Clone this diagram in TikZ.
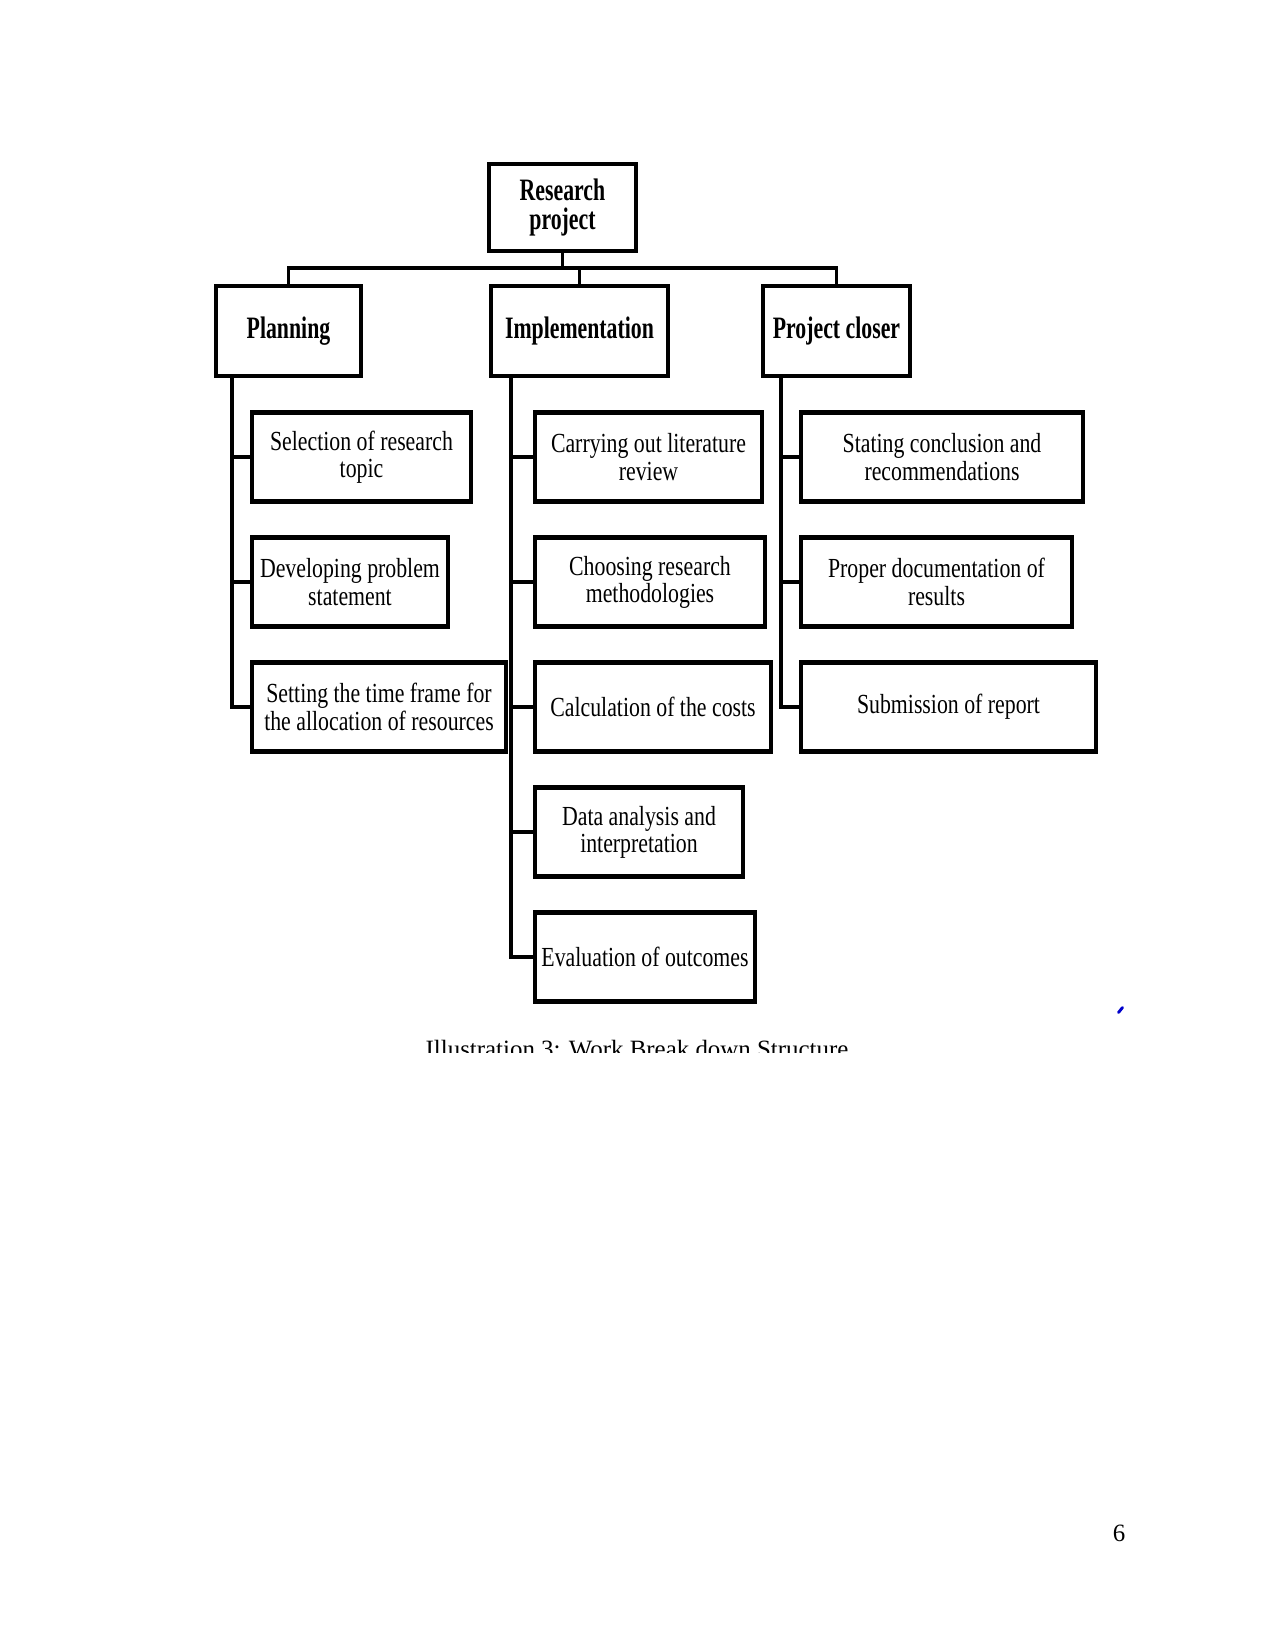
\documentclass[tikz,border=0pt]{standalone}
\usepackage{fontspec}
\setmainfont{Liberation Serif}
\newfontfamily\condf[FakeStretch=0.79]{Liberation Serif}
\newfontfamily\condbf[FakeStretch=0.70]{Liberation Serif}
\newlength\pxu
\setlength\pxu{0.4818pt}
\begin{document}
\begin{tikzpicture}[x=0.4818pt,y=-0.4818pt,
  box/.style={draw,line width=2pt,inner sep=0pt,align=center,
    minimum height=89\pxu,font=\condf\fontsize{13.3pt}{13.1pt}\selectfont},
  headbox/.style={box,minimum height=90\pxu,font=\condbf\bfseries\fontsize{15pt}{13.6pt}\selectfont},
  link/.style={line width=1.8pt,line cap=rect},
  plain/.style={font=\fontsize{12pt}{14pt}\selectfont,inner sep=0pt,anchor=base}]
\fill[white] (0,0) rectangle (1275,1650);
\useasboundingbox (0,0) rectangle (1275,1650);

% top levels
\node[headbox,minimum width=147\pxu,minimum height=87\pxu] (root) at (562.5,207.5) {Research\\project};
\node[headbox,minimum width=145\pxu] (plan) at (288.5,331) {Planning};
\node[headbox,minimum width=177\pxu] (impl) at (579.5,331) {Implementation};
\node[headbox,minimum width=147\pxu] (close) at (836.5,331) {Project closer};

% planning children
\node[box,minimum width=219\pxu] (p1) at (361.5,457) {Selection of research\\topic};
\node[box,minimum width=196\pxu] (p2) at (350,582) {Developing problem\\statement};
\node[box,minimum width=254\pxu] (p3) at (379,707) {Setting the time frame for\\the allocation of resources};

% implementation children
\node[box,minimum width=227\pxu] (i1) at (648.5,457) {Carrying out literature\\review};
\node[box,minimum width=230\pxu] (i2) at (650,582) {Choosing research\\methodologies};
\node[box,minimum width=236\pxu] (i3) at (653,707) {Calculation of the costs};
\node[box,minimum width=208\pxu] (i4) at (639,832) {Data analysis and\\interpretation};
\node[box,minimum width=220\pxu] (i5) at (645,957) {Evaluation of outcomes};

% closer children
\node[box,minimum width=282\pxu] (c1) at (942,457) {Stating conclusion and\\recommendations};
\node[box,minimum width=271\pxu] (c2) at (936.5,582) {Proper documentation of\\results};
\node[box,minimum width=295\pxu] (c3) at (948.5,707) {Submission of report};

% top bar
\coordinate (bar) at (0,268);
\draw[link] (root.south) -- (root.south |- bar);
\draw[link] (plan.north) -- (plan.north |- bar) -- (close.north |- bar) -- (close.north);
\draw[link] (impl.north) -- (impl.north |- bar);

% spines
\path (plan.south west) ++(18,0) coordinate (ps);
\path (impl.south west) ++(22,0) coordinate (is);
\path (close.south west) ++(20,0) coordinate (cs);
\draw[link,line cap=butt] (ps) |- (p3.west);
\draw[link] (p1.west) -- (p1.west -| ps);
\draw[link] (p2.west) -- (p2.west -| ps);
\draw[link,line cap=butt] (is) |- (i5.west);
\draw[link] (i1.west) -- (i1.west -| is);
\draw[link] (i2.west) -- (i2.west -| is);
\draw[link] (i3.west) -- (i3.west -| is);
\draw[link] (i4.west) -- (i4.west -| is);
\draw[link,line cap=butt] (cs) |- (c3.west);
\draw[link] (c1.west) -- (c1.west -| cs);
\draw[link] (c2.west) -- (c2.west -| cs);

% stray blue mark
\coordinate (m1) at (1118.5,1012.5);
\coordinate (m2) at (1122.5,1007.5);
\draw[blue!80!black,line width=1.4pt,line cap=round] (m1) -- (m2);

% clipped caption
\begin{scope}
  \clip (300,1030) rectangle (1000,1052);
  \node[plain] (cap) at (637,1057) {Illustration 3: Work Break down Structure};
\end{scope}

% page number
\node[plain] (pg) at (1119,1541) {6};
\end{tikzpicture}
\end{document}
